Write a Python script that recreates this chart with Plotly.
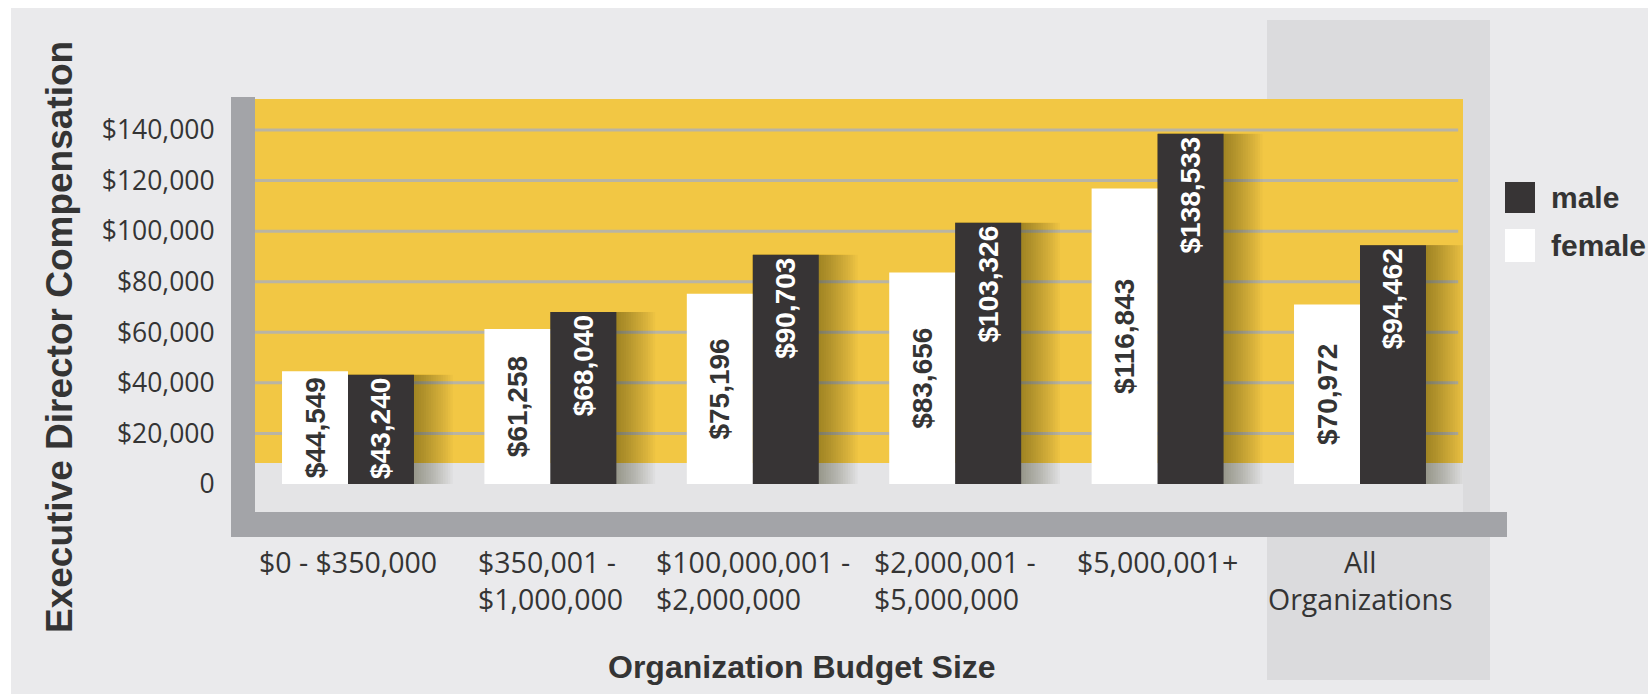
import plotly.graph_objects as go

# Executive director compensation by organization budget size
categories = [
    "$0 - $350,000",
    "$350,001 -<br>$1,000,000",
    "$100,000,001 -<br>$2,000,000",
    "$2,000,001 -<br>$5,000,000",
    "$5,000,001+",
    "All<br>Organizations",
]
female = [44549, 61258, 75196, 83656, 116843, 70972]
male = [43240, 68040, 90703, 103326, 138533, 94462]
series_names = ["male", "female"]

y_tick_vals = [0, 20000, 40000, 60000, 80000, 100000, 120000, 140000]
y_tick_text = ["0", "$20,000", "$40,000", "$60,000", "$80,000",
               "$100,000", "$120,000", "$140,000"]

x_title = "Organization Budget Size"
y_title = "Executive Director Compensation"

W, H = 1648, 694


def px(x):
    return x / W


def py(y):
    return 1 - y / H


YELLOW = "#f2c744"
DARK = "#373435"
WALL = "#a3a4a8"
TEXT = "#343434"
BOLD_FONT = "Liberation Sans"
LABEL_FONT = "Open Sans"

BW = 0.326  # width of one bar, in category units

fig = go.Figure()

# soft shadow to the right of each dark bar, built from thin translucent layers
for k in range(1, 17):
    fig.add_trace(go.Bar(
        x=categories, y=male, offset=0, width=BW + 0.012 * k,
        marker=dict(color="rgba(45,32,0,0.026)", line=dict(width=0)),
        hoverinfo="skip", showlegend=False,
    ))

fig.add_trace(go.Bar(
    x=categories, y=female, name=series_names[1],
    offset=-BW, width=BW,
    marker=dict(color="white", line=dict(width=0)),
    text=[f"${v:,}" for v in female],
    textposition="inside", insidetextanchor="middle", textangle=-90,
    constraintext="none",
    textfont=dict(family=BOLD_FONT, size=28, color=TEXT, weight="bold"),
    showlegend=False,
))
fig.add_trace(go.Bar(
    x=categories, y=male, name=series_names[0],
    offset=0, width=BW,
    marker=dict(color=DARK, line=dict(width=0)),
    text=[f"${v:,}" for v in male],
    textposition="inside", insidetextanchor="end", textangle=-90,
    constraintext="none",
    textfont=dict(family=BOLD_FONT, size=28, color="white", weight="bold"),
    showlegend=False,
))

shapes = [
    # page background
    dict(type="rect", xref="paper", yref="paper", x0=px(11), x1=1, y0=0, y1=py(8),
         fillcolor="#eaeaec", line=dict(width=0), layer="below"),
    # highlight column behind the overall figures
    dict(type="rect", xref="paper", yref="paper", x0=px(1267), x1=px(1490),
         y0=py(680), y1=py(20), fillcolor="#dbdbdd", line=dict(width=0), layer="below"),
    # back wall
    dict(type="rect", xref="paper", yref="paper", x0=px(255), x1=px(1463),
         y0=py(463), y1=py(99), fillcolor=YELLOW, line=dict(width=0), layer="below"),
    # floor
    dict(type="rect", xref="paper", yref="paper", x0=px(255), x1=px(1463),
         y0=py(512), y1=py(463), fillcolor="#e4e4e6", line=dict(width=0), layer="below"),
    # left side wall
    dict(type="rect", xref="paper", yref="paper", x0=px(231), x1=px(255),
         y0=py(537), y1=py(97), fillcolor=WALL, line=dict(width=0), layer="below"),
    # base slab
    dict(type="rect", xref="paper", yref="paper", x0=px(231), x1=px(1507),
         y0=py(537), y1=py(512), fillcolor=WALL, line=dict(width=0), layer="below"),
]
# gridlines on the back wall
for v in y_tick_vals[1:]:
    shapes.append(dict(type="line", xref="x domain", yref="y", x0=0, x1=0.996,
                       y0=v, y1=v, line=dict(color="#b9b4a4", width=3), layer="below"))

# legend swatches
legend_colors = {"male": DARK, "female": "white"}
legend_rows = [(182, 213), (229, 262)]
for name, (top, bottom) in zip(series_names, legend_rows):
    shapes.append(dict(type="rect", xref="paper", yref="paper",
                       x0=px(1505), x1=px(1535), y0=py(bottom), y1=py(top),
                       fillcolor=legend_colors[name], line=dict(width=0)))

annotations = []
for c in categories:
    annotations.append(dict(
        x=c, xref="x", y=py(541), yref="paper", yanchor="top", xanchor="center",
        text=c, showarrow=False, align="left" if " -" in c else "center",
        font=dict(family=LABEL_FONT, size=28.5, color=TEXT),
    ))
for name, (top, bottom) in zip(series_names, legend_rows):
    annotations.append(dict(
        x=px(1549), y=py((top + bottom) / 2), xref="paper", yref="paper",
        xanchor="left", yanchor="middle", text=name, showarrow=False,
        font=dict(family=BOLD_FONT, size=30, color=TEXT, weight="bold"),
    ))
annotations.append(dict(
    x=px(802), y=py(667), xref="paper", yref="paper", text=x_title,
    showarrow=False, xanchor="center", yanchor="middle",
    font=dict(family=BOLD_FONT, size=32, color=TEXT, weight="bold"),
))
annotations.append(dict(
    x=px(59), y=py(337), xref="paper", yref="paper", text=y_title,
    showarrow=False, xanchor="center", yanchor="middle", textangle=-90,
    font=dict(family=BOLD_FONT, size=37, color=TEXT, weight="bold"),
))

# value axis: zero at y=484px, 140,000 at y=130px
k = (484 - 130) / 140000
y_top = (484 - 99) / k
y_bottom = -(512 - 484) / k
# category axis: first group centred at 348px, 202.4px between groups
step = 202.4
x_left = (255 - 348) / step
x_right = (1463 - 348) / step

fig.update_layout(
    width=W, height=H,
    margin=dict(l=0, r=0, t=0, b=0),
    paper_bgcolor="white",
    plot_bgcolor="rgba(0,0,0,0)",
    barmode="overlay",
    showlegend=False,
    shapes=shapes,
    annotations=annotations,
    xaxis=dict(domain=[px(255), px(1463)], range=[x_left, x_right],
               type="category", showticklabels=False, showgrid=False,
               zeroline=False, showline=False, ticks="", automargin=False),
    yaxis=dict(domain=[py(512), py(99)], range=[y_bottom, y_top],
               tickvals=y_tick_vals, ticktext=y_tick_text,
               ticks="outside", ticklen=34, tickcolor="rgba(0,0,0,0)",
               tickfont=dict(family=LABEL_FONT, size=26.5, color=TEXT),
               showgrid=False, zeroline=False, showline=False, automargin=False),
)

fig.write_html("out.html")
